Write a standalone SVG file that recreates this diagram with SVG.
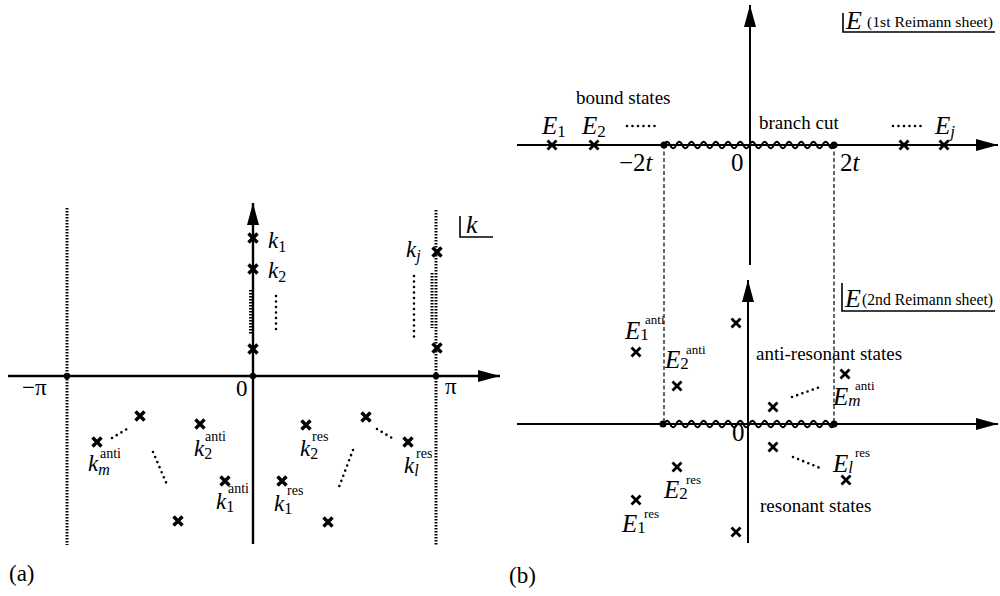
<svg xmlns="http://www.w3.org/2000/svg" xmlns:xlink="http://www.w3.org/1999/xlink" width="1000" height="596" viewBox="0 0 1000 596">
<style>
.bg{fill:#ffffff}
.ax{stroke:#000;stroke-width:2.4;fill:none}
.ax2{stroke:#000;stroke-width:2;fill:none}
.dotv{stroke:#000;stroke-width:3;stroke-dasharray:1.6,1.4;fill:none}
.dsh{stroke:#000;stroke-width:1.2;stroke-dasharray:4,2.5;fill:none}
.dots{stroke:#000;stroke-width:2.6;stroke-linecap:round;stroke-dasharray:0,5.5;fill:none}
.wave{stroke:#000;stroke-width:1.8;fill:none}
.xl{stroke:#000;stroke-width:3.4;fill:none}
.xr{stroke:#000;stroke-width:2.8;fill:none}
.pt{fill:#000}
.t{font-family:"Liberation Serif","Times New Roman",serif;fill:#000}
.m{font-family:"Liberation Serif","Times New Roman",serif;font-style:italic;fill:#000}
.n{font-style:normal}
.bx{stroke:#000;stroke-width:1.6;fill:none}
</style>
<defs>
<path id="xs" d="M-4.5,-4.5L4.5,4.5M-4.5,4.5L4.5,-4.5"/>
<marker id="ah" viewBox="0 0 22 12" refX="22" refY="6" markerWidth="22" markerHeight="12" markerUnits="userSpaceOnUse" orient="auto">
<path d="M0,0L22,6L0,12z" fill="#000"/>
</marker>
</defs>
<rect class="bg" x="0" y="0" width="1000" height="596"/>

<g id="connectors">
<line class="ax" x1="8" y1="376" x2="500" y2="376" marker-end="url(#ah)"/>
<line class="ax" x1="253" y1="544" x2="253" y2="203" marker-end="url(#ah)"/>
<line class="dotv" x1="67" y1="208" x2="67" y2="545"/>
<line class="dotv" x1="436" y1="210" x2="436" y2="545"/>
<line class="dotv" x1="250.5" y1="290" x2="250.5" y2="334"/>
<line class="dotv" x1="432" y1="273" x2="432" y2="328"/>
<line class="dots" x1="276" y1="296" x2="276" y2="331"/>
<line class="dots" x1="414" y1="276" x2="414" y2="341"/>
<line class="dots" x1="112" y1="438" x2="127" y2="429"/>
<line class="dots" x1="153" y1="452" x2="168" y2="487"/>
<line class="dots" x1="353" y1="450" x2="339" y2="487"/>
<line class="dots" x1="377" y1="429" x2="392" y2="438"/>
<polyline class="bx" points="460,216 460,237 493,237"/>
<line class="ax2" x1="517" y1="145" x2="998" y2="145" marker-end="url(#ah)"/>
<line class="ax2" x1="750" y1="265" x2="750" y2="5" marker-end="url(#ah)"/>
<line class="ax2" x1="517" y1="424" x2="998" y2="424" marker-end="url(#ah)"/>
<line class="ax2" x1="748" y1="543" x2="748" y2="280" marker-end="url(#ah)"/>
<line class="dsh" x1="664" y1="145" x2="664" y2="424"/>
<line class="dsh" x1="834" y1="145" x2="834" y2="424"/>
<path class="wave" d="M664,145q3.05,-6.5 6.1,0t6.1,0t6.1,0t6.1,0t6.1,0t6.1,0t6.1,0t6.1,0t6.1,0t6.1,0t6.1,0t6.1,0t6.1,0t6.1,0t6.1,0t6.1,0t6.1,0t6.1,0t6.1,0t6.1,0t6.1,0t6.1,0t6.1,0t6.1,0t6.1,0t6.1,0t6.1,0t6.1,0"/>
<path class="wave" d="M664,424q3.05,-6.5 6.1,0t6.1,0t6.1,0t6.1,0t6.1,0t6.1,0t6.1,0t6.1,0t6.1,0t6.1,0t6.1,0t6.1,0t6.1,0t6.1,0t6.1,0t6.1,0t6.1,0t6.1,0t6.1,0t6.1,0t6.1,0t6.1,0t6.1,0t6.1,0t6.1,0t6.1,0t6.1,0t6.1,0"/>
<line class="dots" x1="627" y1="126" x2="655" y2="126"/>
<line class="dots" x1="893" y1="126" x2="921" y2="126"/>
<line class="dots" x1="792" y1="397" x2="820" y2="387"/>
<line class="dots" x1="793" y1="457" x2="820" y2="468"/>
<polyline class="bx" points="843,13 843,32 995,32"/>
<polyline class="bx" points="842,283 842,311 995,311"/>
</g>

<g id="panel-a-points">
<circle class="pt" cx="67" cy="376" r="3.2"/>
<circle class="pt" cx="253" cy="376" r="3.2"/>
<circle class="pt" cx="436" cy="376" r="3.2"/>
<g id="k1"><use xlink:href="#xs" class="xl" x="253" y="238"/><text class="m" x="268" y="248" font-size="23">k<tspan class="n" font-size="16" dy="4">1</tspan></text></g>
<g id="k2"><use xlink:href="#xs" class="xl" x="253" y="269"/><text class="m" x="268" y="278" font-size="23">k<tspan class="n" font-size="16" dy="4">2</tspan></text></g>
<g id="k3"><use xlink:href="#xs" class="xl" x="253" y="349"/></g>
<g id="kj"><use xlink:href="#xs" class="xl" x="437" y="252"/><use xlink:href="#xs" class="xl" x="437" y="348"/><text class="m" x="406" y="257" font-size="23">k<tspan font-size="16" dy="4">j</tspan></text></g>
<g id="km-anti"><use xlink:href="#xs" class="xl" x="97" y="442"/><text class="m" x="88" y="471" font-size="23">k<tspan font-size="16" dy="4">m</tspan></text><text class="t" x="100" y="458" font-size="14">anti</text></g>
<g id="ka-top"><use xlink:href="#xs" class="xl" x="140" y="416"/></g>
<g id="ka-bot"><use xlink:href="#xs" class="xl" x="178" y="521"/></g>
<g id="k2-anti"><use xlink:href="#xs" class="xl" x="200" y="424"/><text class="m" x="194" y="456" font-size="23">k<tspan class="n" font-size="16" dy="3">2</tspan></text><text class="t" x="205" y="441" font-size="14">anti</text></g>
<g id="k1-anti"><use xlink:href="#xs" class="xl" x="225" y="481"/><text class="m" x="216" y="509" font-size="23">k<tspan class="n" font-size="16" dy="3">1</tspan></text><text class="t" x="228" y="493" font-size="14">anti</text></g>
<g id="k2-res"><use xlink:href="#xs" class="xl" x="306" y="425"/><text class="m" x="300" y="456" font-size="23">k<tspan class="n" font-size="16" dy="3">2</tspan></text><text class="t" x="312" y="441" font-size="14">res</text></g>
<g id="k1-res"><use xlink:href="#xs" class="xl" x="282" y="481"/><text class="m" x="274" y="511" font-size="23">k<tspan class="n" font-size="16" dy="3">1</tspan></text><text class="t" x="287" y="495" font-size="14">res</text></g>
<g id="kr-top"><use xlink:href="#xs" class="xl" x="366" y="417"/></g>
<g id="kr-bot"><use xlink:href="#xs" class="xl" x="328" y="522"/></g>
<g id="kl-res"><use xlink:href="#xs" class="xl" x="408" y="442"/><text class="m" x="404" y="473" font-size="23">k<tspan font-size="16" dy="3">l</tspan></text><text class="t" x="416" y="458" font-size="14">res</text></g>
<text class="t" x="22" y="395" font-size="23">−π</text>
<text class="t" x="236" y="396" font-size="23">0</text>
<text class="t" x="445" y="394" font-size="23">π</text>
<text class="m" x="466" y="233" font-size="26">k</text>
<text class="t" x="9" y="581" font-size="23">(a)</text>
</g>

<g id="panel-b-points">
<circle class="pt" cx="664" cy="145" r="3.5"/>
<circle class="pt" cx="834" cy="145" r="3.5"/>
<circle class="pt" cx="663" cy="424" r="3.5"/>
<circle class="pt" cx="834" cy="424" r="3.5"/>
<g id="E1"><use xlink:href="#xs" class="xr" x="552" y="145"/><text class="m" x="542" y="134" font-size="25">E<tspan class="n" font-size="17" dy="3">1</tspan></text></g>
<g id="E2"><use xlink:href="#xs" class="xr" x="594" y="145"/><text class="m" x="582" y="134" font-size="25">E<tspan class="n" font-size="17" dy="3">2</tspan></text></g>
<g id="Ej"><use xlink:href="#xs" class="xr" x="904" y="145"/><use xlink:href="#xs" class="xr" x="944" y="145"/><text class="m" x="935" y="134" font-size="25">E<tspan font-size="17" dy="3">j</tspan></text></g>
<text class="t" x="576" y="104" font-size="19">bound states</text>
<text class="t" x="759" y="129" font-size="19">branch cut</text>
<text class="m" x="619" y="171" font-size="25"><tspan class="n">−2</tspan>t</text>
<text class="t" x="731" y="171" font-size="25">0</text>
<text class="m" x="840" y="171" font-size="25"><tspan class="n">2</tspan>t</text>
<text class="m" x="846" y="29" font-size="26">E</text>
<text class="t" x="867" y="27" font-size="15.5" textLength="126" lengthAdjust="spacingAndGlyphs">(1st Reimann sheet)</text>
<text class="m" x="845" y="307" font-size="26">E</text>
<text class="t" x="862" y="305" font-size="16" textLength="131" lengthAdjust="spacingAndGlyphs">(2nd Reimann sheet)</text>
<g id="E1-anti"><use xlink:href="#xs" class="xr" x="636" y="352"/><text class="m" x="625" y="339" font-size="25">E<tspan class="n" font-size="17" dy="1">1</tspan></text><text class="t" x="645" y="324" font-size="13">anti</text></g>
<g id="E2-anti"><use xlink:href="#xs" class="xr" x="677" y="386"/><text class="m" x="665" y="368" font-size="25">E<tspan class="n" font-size="17" dy="1">2</tspan></text><text class="t" x="686" y="354" font-size="13">anti</text></g>
<g id="Ea-top"><use xlink:href="#xs" class="xr" x="736" y="323"/></g>
<g id="Ea-low"><use xlink:href="#xs" class="xr" x="773" y="407"/></g>
<g id="Em-anti"><use xlink:href="#xs" class="xr" x="845" y="374"/><text class="m" x="833" y="405" font-size="25">E<tspan font-size="17" dy="1">m</tspan></text><text class="t" x="855" y="390" font-size="13">anti</text></g>
<text class="t" x="756" y="360" font-size="19">anti-resonant states</text>
<text class="t" x="732" y="441" font-size="25">0</text>
<g id="Er-top"><use xlink:href="#xs" class="xr" x="773" y="447"/></g>
<g id="El-res"><use xlink:href="#xs" class="xr" x="846" y="480"/><text class="m" x="833" y="472" font-size="25">E<tspan font-size="17" dy="1">l</tspan></text><text class="t" x="855" y="457" font-size="13">res</text></g>
<g id="E2-res"><use xlink:href="#xs" class="xr" x="677" y="467"/><text class="m" x="664" y="498" font-size="25">E<tspan class="n" font-size="17" dy="1">2</tspan></text><text class="t" x="686" y="484" font-size="13">res</text></g>
<g id="E1-res"><use xlink:href="#xs" class="xr" x="636" y="500"/><text class="m" x="622" y="532" font-size="25">E<tspan class="n" font-size="17" dy="1">1</tspan></text><text class="t" x="644" y="518" font-size="13">res</text></g>
<g id="Er-bot"><use xlink:href="#xs" class="xr" x="736" y="532"/></g>
<text class="t" x="760" y="512" font-size="19">resonant states</text>
<text class="t" x="509" y="583" font-size="23">(b)</text>
</g>
</svg>
